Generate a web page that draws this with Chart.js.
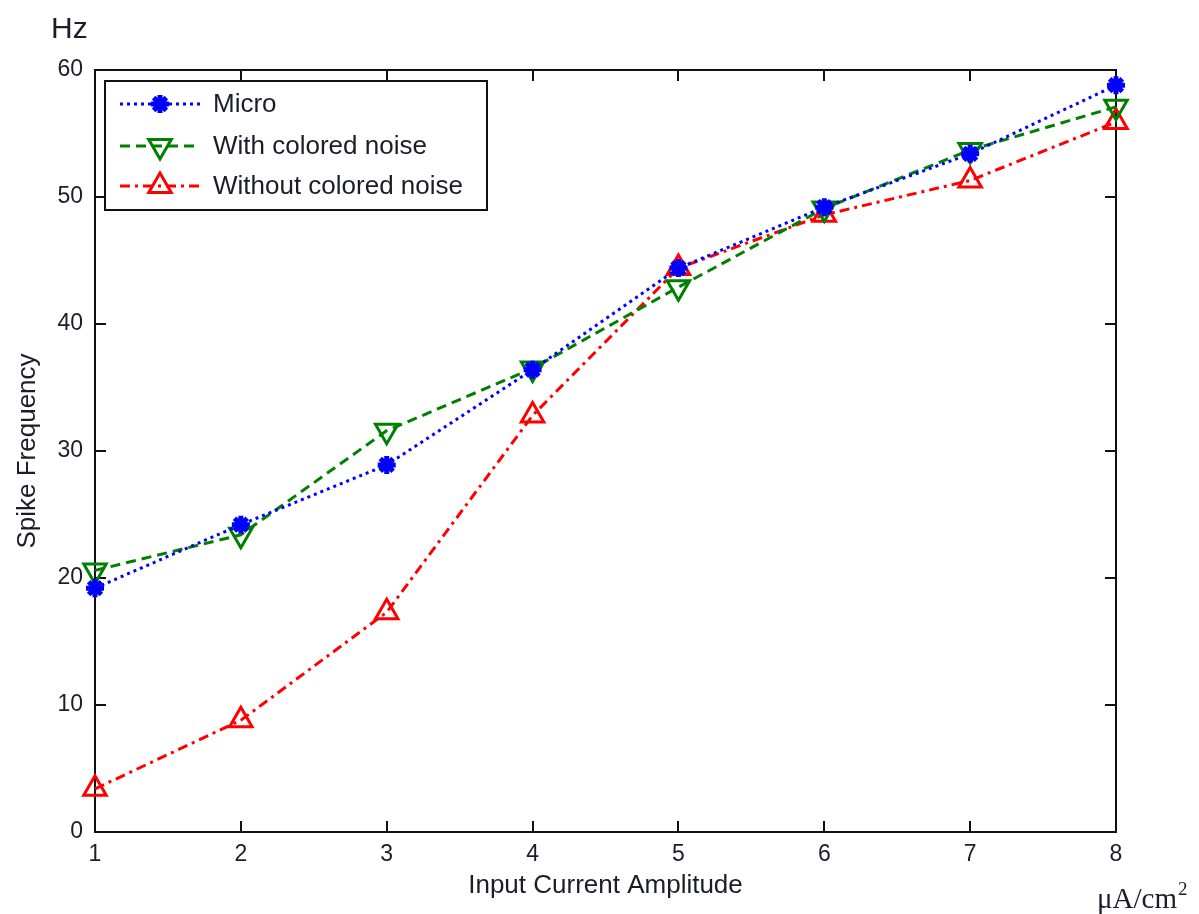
<!DOCTYPE html>
<html>
<head>
<meta charset="utf-8">
<script src="https://cdn.jsdelivr.net/npm/chart.js@4.4.1/dist/chart.umd.min.js"></script>
<style>
html,body{margin:0;padding:0;background:#fff;}
#wrap{width:1199px;height:914px;position:relative;}
</style>
</head>
<body>
<div id="wrap"><canvas id="c" width="1199" height="914"></canvas></div>
<script>
const categories = [1, 2, 3, 4, 5, 6, 7, 8];
const microValues = [19.2, 24.2, 28.9, 36.4, 44.4, 49.2, 53.4, 58.8];
const coloredNoiseValues = [20.6, 23.4, 31.6, 36.5, 42.9, 49.1, 53.7, 57.1];
const withoutNoiseValues = [3.4, 8.8, 17.3, 32.8, 44.4, 48.6, 51.3, 55.9];
const seriesNames = ['Micro', 'With colored noise', 'Without colored noise'];
const yTicks = [0, 10, 20, 30, 40, 50, 60];
const xTitle = 'Input Current Amplitude';
const yTitle = 'Spike Frequency';
const yUnit = 'Hz';
const xUnit = 'μA/cm';

const toXY = vals => vals.map((v, i) => ({x: categories[i], y: v}));
const TXT = '#1c1c2a';

const frameTicks = {
  id: 'frameTicks',
  beforeDatasetsDraw(chart) {
    const {ctx, chartArea: a, scales} = chart;
    ctx.save();
    ctx.strokeStyle = '#111';
    ctx.lineWidth = 2;
    ctx.strokeRect(a.left, a.top, a.right - a.left, a.bottom - a.top);
    const L = 11;
    ctx.beginPath();
    categories.forEach(c => {
      const x = Math.round(scales.x.getPixelForValue(c));
      ctx.moveTo(x, a.bottom); ctx.lineTo(x, a.bottom - L);
      ctx.moveTo(x, a.top); ctx.lineTo(x, a.top + L);
    });
    yTicks.forEach(t => {
      const y = Math.round(scales.y.getPixelForValue(t));
      ctx.moveTo(a.left, y); ctx.lineTo(a.left + L, y);
      ctx.moveTo(a.right, y); ctx.lineTo(a.right - L, y);
    });
    ctx.stroke();
    ctx.restore();
  },
  afterDatasetsDraw(chart) {
    const {ctx} = chart;
    ctx.save();
    // legend
    const bx = 105, by = 81, bw = 382, bh = 129;
    ctx.fillStyle = '#fff';
    ctx.fillRect(bx, by, bw, bh);
    ctx.lineWidth = 2;
    ctx.strokeStyle = '#111';
    ctx.strokeRect(bx, by, bw, bh);
    const rows = [104, 146, 186];
    chart.data.datasets.forEach((ds, i) => {
      const y = rows[i];
      ctx.save();
      ctx.strokeStyle = ds.borderColor;
      ctx.lineWidth = ds.borderWidth;
      ctx.setLineDash(ds.borderDash || []);
      ctx.beginPath();
      ctx.moveTo(120, y); ctx.lineTo(200, y);
      ctx.stroke();
      ctx.setLineDash([]);
      ctx.strokeStyle = ds.pointBorderColor;
      ctx.fillStyle = ds.pointBackgroundColor;
      ctx.lineWidth = ds.pointBorderWidth;
      Chart.helpers.drawPoint(ctx, {pointStyle: ds.pointStyle, rotation: ds.pointRotation || 0, radius: ds.pointRadius, borderWidth: ds.pointBorderWidth}, 160, y);
      ctx.restore();
      ctx.fillStyle = TXT;
      ctx.font = '26px "Liberation Sans", Arial, sans-serif';
      ctx.textBaseline = 'middle';
      ctx.textAlign = 'left';
      ctx.fillText(ds.label, 213, y + 1);
    });

    // units
    ctx.fillStyle = TXT;
    ctx.font = '30px "Liberation Sans", Arial, sans-serif';
    ctx.textBaseline = 'alphabetic';
    ctx.textAlign = 'left';
    ctx.fillText(yUnit, 51, 38);
    ctx.font = '29px "Liberation Serif", "Times New Roman", serif';
    ctx.fillText(xUnit, 1097, 908);
    const w = ctx.measureText(xUnit).width;
    ctx.font = '19px "Liberation Serif", "Times New Roman", serif';
    ctx.fillText('2', 1097 + w + 1, 895);
    ctx.restore();
  }
};

new Chart(document.getElementById('c'), {
  type: 'line',
  data: {
    datasets: [
      {
        label: seriesNames[0],
        data: toXY(microValues),
        borderColor: '#0000ff',
        borderWidth: 3,
        borderDash: [3, 4],
        pointStyle: 'star',
        pointRadius: 9,
        pointBorderWidth: 5,
        pointBorderColor: '#0000ff',
        pointBackgroundColor: '#0000ff',
        fill: false,
        clip: false,
        tension: 0
      },
      {
        label: seriesNames[1],
        data: toXY(coloredNoiseValues),
        borderColor: '#008000',
        borderWidth: 3,
        borderDash: [10, 6],
        pointStyle: 'triangle',
        pointRotation: 180,
        pointRadius: 13,
        pointBorderWidth: 3,
        pointBorderColor: '#008000',
        pointBackgroundColor: 'rgba(0,0,0,0)',
        fill: false,
        clip: false,
        tension: 0
      },
      {
        label: seriesNames[2],
        data: toXY(withoutNoiseValues),
        borderColor: '#ff0000',
        borderWidth: 3,
        borderDash: [10, 5, 3, 5],
        pointStyle: 'triangle',
        pointRadius: 13,
        pointBorderWidth: 3,
        pointBorderColor: '#ff0000',
        pointBackgroundColor: 'rgba(0,0,0,0)',
        fill: false,
        clip: false,
        tension: 0
      }
    ]
  },
  options: {
    responsive: false,
    animation: false,
    layout: {padding: {left: 0, top: 70, right: 83, bottom: 0}},
    plugins: {legend: {display: false}, tooltip: {enabled: false}},
    scales: {
      x: {
        type: 'linear',
        min: 1, max: 8,
        afterFit(s) { s.height = 82; },
        grid: {display: false, drawTicks: false},
        border: {display: false},
        afterBuildTicks(s) { s.ticks = categories.map(v => ({value: v})); },
        ticks: {padding: 9, color: TXT, font: {family: '"Liberation Sans", Arial, sans-serif', size: 23}, maxRotation: 0},
        title: {display: true, text: xTitle, color: TXT, font: {family: '"Liberation Sans", Arial, sans-serif', size: 26}, padding: {top: 0, bottom: 13}}
      },
      y: {
        type: 'linear',
        min: 0, max: 60,
        afterFit(s) { s.width = 95; },
        grid: {display: false, drawTicks: false},
        border: {display: false},
        afterBuildTicks(s) { s.ticks = yTicks.map(v => ({value: v})); },
        ticks: {padding: 12, color: TXT, font: {family: '"Liberation Sans", Arial, sans-serif', size: 23}},
        title: {display: true, text: yTitle, color: TXT, font: {family: '"Liberation Sans", Arial, sans-serif', size: 26}, padding: {top: 12, bottom: 0}}
      }
    }
  },
  plugins: [frameTicks]
});
</script>
</body>
</html>
